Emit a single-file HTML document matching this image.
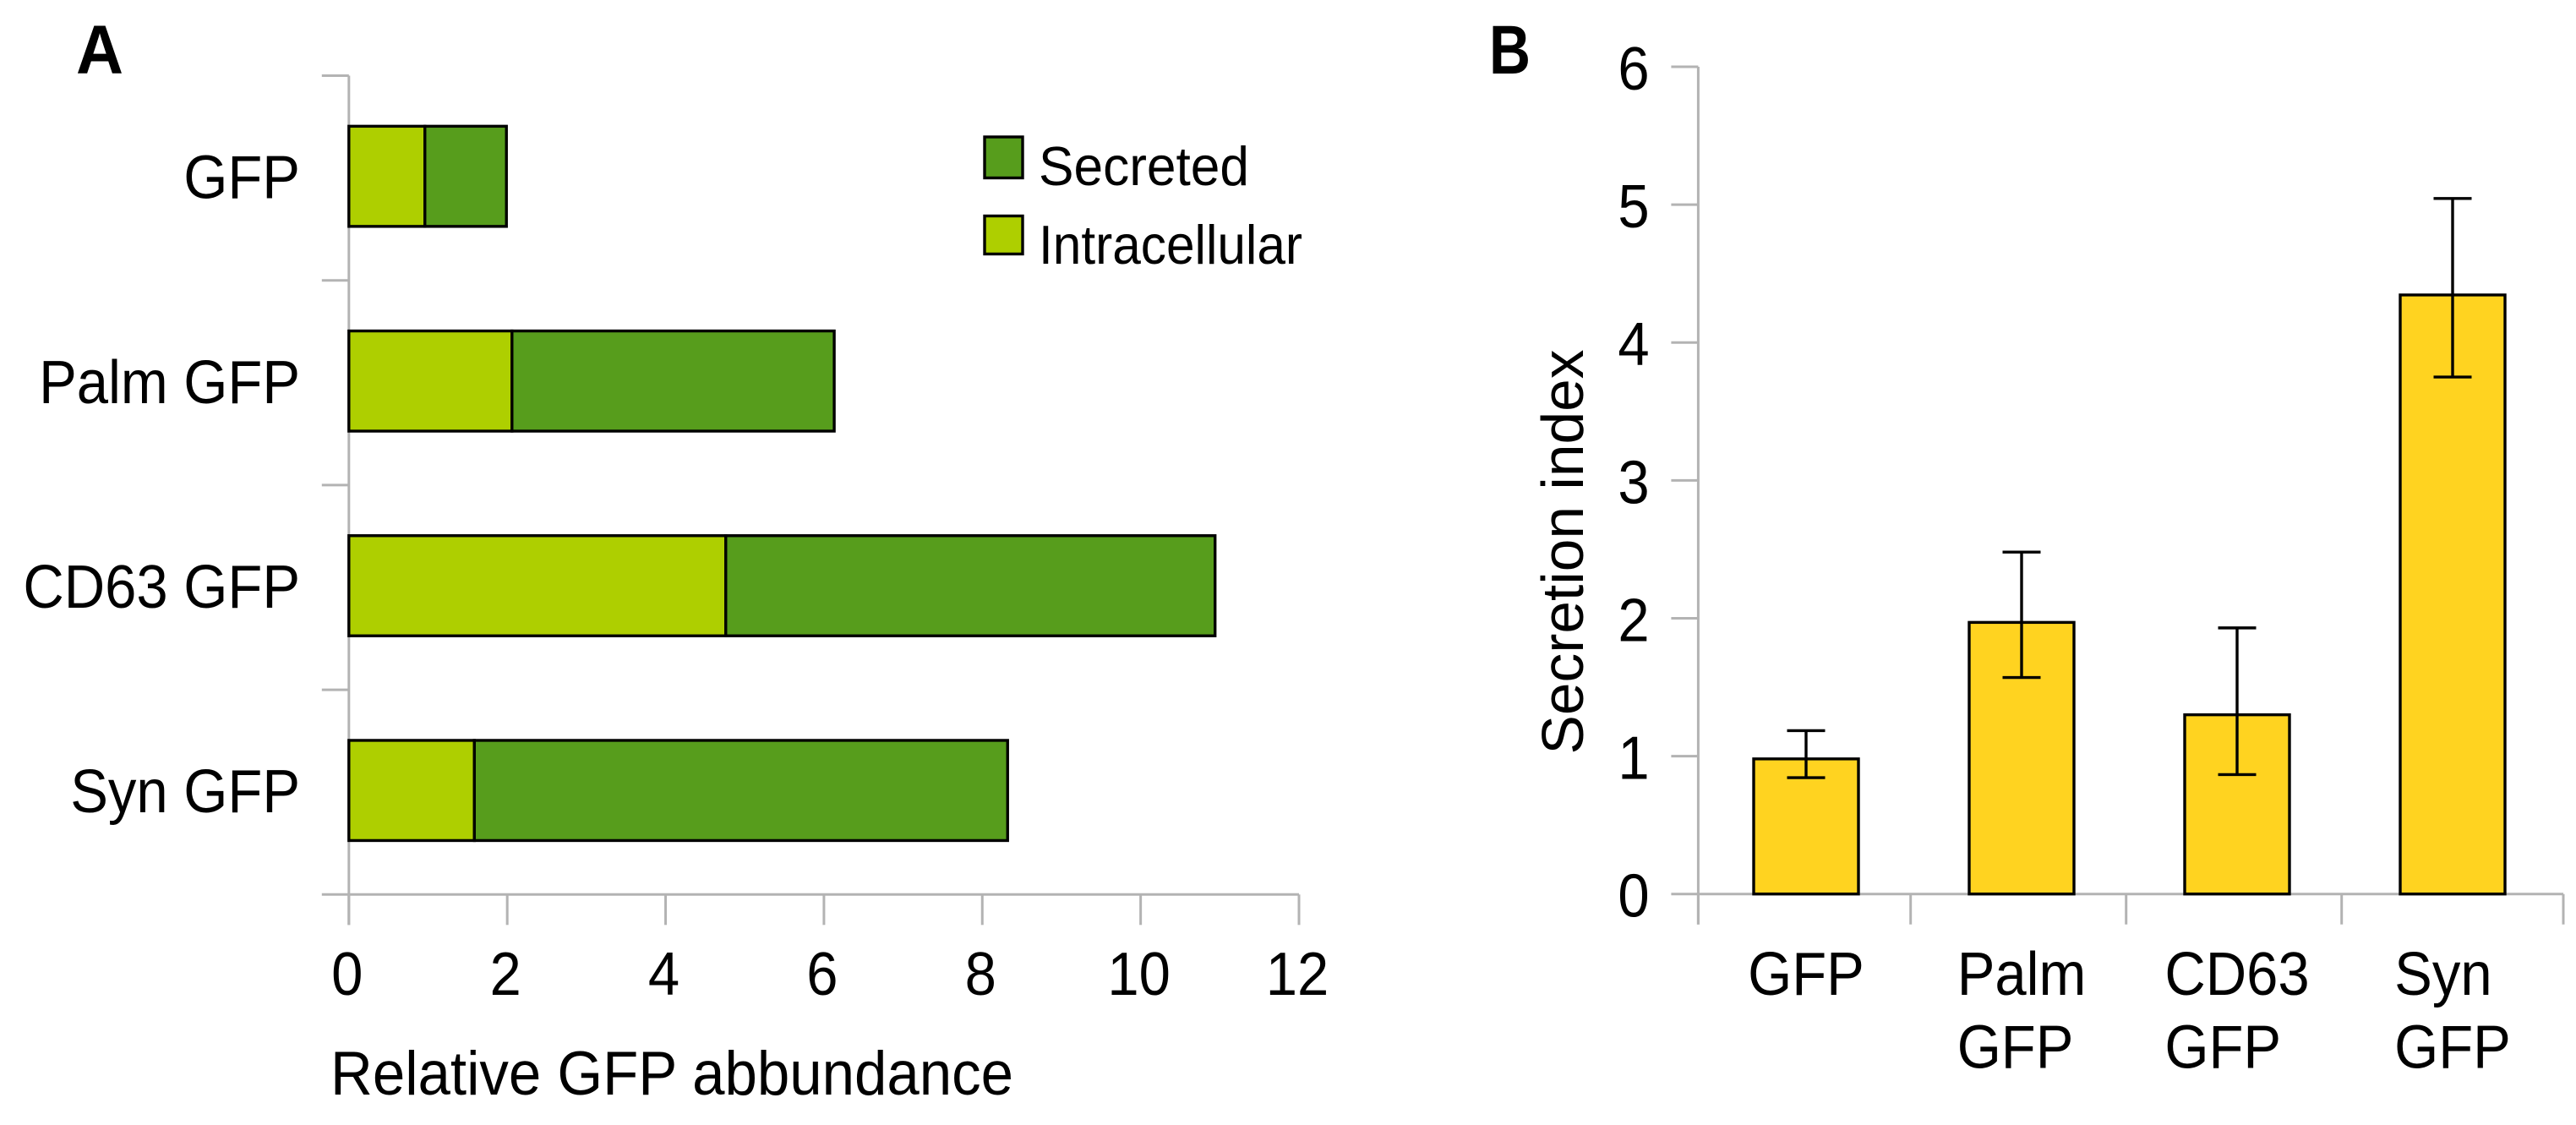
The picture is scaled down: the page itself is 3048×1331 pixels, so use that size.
<!DOCTYPE html>
<html lang="en">
<head>
<meta charset="utf-8">
<title>GFP abundance and secretion index</title>
<style>
  html, body { margin: 0; padding: 0; background: #fff; }
  svg { display: block; }
  text { font-family: "Liberation Sans", Arial, sans-serif; fill: #000; }
</style>
</head>
<body>
<svg id="figure" xmlns="http://www.w3.org/2000/svg" width="3048" height="1331" viewBox="0 0 3048 1331">
  <rect x="0" y="0" width="3048" height="1331" fill="#ffffff"/>
  <text x="90" y="87" font-size="82" font-weight="bold" textLength="56" lengthAdjust="spacingAndGlyphs">A</text>
  <text x="1762" y="87" font-size="82" font-weight="bold" textLength="49" lengthAdjust="spacingAndGlyphs">B</text>

  <g id="chart-a"></g>
  <g id="chart-b"></g>

  <g>
    <g>
      <rect x="1165" y="162" width="45" height="48.5" fill="#579d1c" stroke="#000" stroke-width="3.4"/>
      <text x="1229" y="219" font-size="65" textLength="249" lengthAdjust="spacingAndGlyphs">Secreted</text>
    </g>
    <g>
      <rect x="1165" y="255.5" width="45" height="45" fill="#aecf00" stroke="#000" stroke-width="3.4"/>
      <text x="1229" y="312" font-size="65" textLength="312" lengthAdjust="spacingAndGlyphs">Intracellular</text>
    </g>
  </g>

  <text transform="translate(391 1295) scale(1 1.06)" x="0" y="0" font-size="69">Relative GFP abbundance</text>
  <text transform="translate(1873 653) rotate(-90)" text-anchor="middle" font-size="69.5">Secretion index</text>
</svg>

<script>
// Panel A data: stacked horizontal bars
const categoriesA = ['GFP', 'Palm GFP', 'CD63 GFP', 'Syn GFP'];
const intracellular = [0.96, 2.06, 4.76, 1.585];
const secreted = [1.03, 4.07, 6.18, 6.735];
const xTicksA = [0, 2, 4, 6, 8, 10, 12];

// Panel B data: bars with error bars
const categoriesB = [['GFP'], ['Palm', 'GFP'], ['CD63', 'GFP'], ['Syn', 'GFP']];
const secretionIndex = [0.98, 1.97, 1.30, 4.345];
const errorUpper = [1.185, 2.48, 1.93, 5.045];
const errorLower = [0.844, 1.57, 0.866, 3.75];
const yTicksB = [0, 1, 2, 3, 4, 5, 6];

const SVG_NS = 'http://www.w3.org/2000/svg';
const AXIS_COLOR = '#b3b3b3';
const AXIS_WIDTH = 3;
const MARK_WIDTH = 3.4;
const LABEL_SIZE = 67;
const LABEL_STRETCH = 1.08;

function make(parent, tag, attrs, content) {
  const node = document.createElementNS(SVG_NS, tag);
  for (const key in attrs) node.setAttribute(key, attrs[key]);
  if (content !== undefined) node.textContent = content;
  parent.appendChild(node);
  return node;
}
// Axis labels in the reference are slightly taller than they are wide
function placeLabel(node, x, y) {
  node.setAttribute('transform', 'translate(' + x + ' ' + y + ') scale(1 ' + LABEL_STRETCH + ')');
}
function makeLabel(parent, x, y, anchor, content) {
  const node = make(parent, 'text', { x: 0, y: 0, 'text-anchor': anchor, 'font-size': LABEL_SIZE }, content);
  placeLabel(node, x, y);
  return node;
}
function slug(s) { return s.toLowerCase().replace(/\s+/g, '-'); }

const chartA = document.getElementById('chart-a');
const chartB = document.getElementById('chart-b');

/* ---------- Panel A scales ---------- */
const plotA = { left: 412.8, right: 1537, top: 89.5, bottom: 1058.3, xMax: 12, barHeight: 118.5 };
function xA(v) { return plotA.left + (v / plotA.xMax) * (plotA.right - plotA.left); }
function bandA() { return (plotA.bottom - plotA.top) / categoriesA.length; }
function yEdgeA(i) { return plotA.top + i * bandA(); }
function yCenterA(i) { return yEdgeA(i) + bandA() / 2 - 2; }

/* Panel A axes */
let el = make(chartA, 'line', { x1: plotA.left, x2: plotA.left, y1: plotA.top, y2: plotA.bottom + 36, stroke: AXIS_COLOR, 'stroke-width': AXIS_WIDTH });



el = make(chartA, 'line', { x1: plotA.left, x2: plotA.right, y1: plotA.bottom, y2: plotA.bottom, stroke: AXIS_COLOR, 'stroke-width': AXIS_WIDTH });



for (let i = 0; i <= categoriesA.length; i++) {
  const t = make(chartA, 'line', { x1: plotA.left - 32, x2: plotA.left, y1: yEdgeA(i), y2: yEdgeA(i), stroke: AXIS_COLOR, 'stroke-width': AXIS_WIDTH });
  
  
}

xTicksA.forEach(function (v) {
  const t = make(chartA, 'line', { x1: xA(v), x2: xA(v), y1: plotA.bottom, y2: plotA.bottom + 36, stroke: AXIS_COLOR, 'stroke-width': AXIS_WIDTH });
  
  
  const lab = makeLabel(chartA, xA(v) - 2, 1177, 'middle', String(v));
  
  
});

/* Panel A bars and labels */
categoriesA.forEach(function (cat, i) {
  const top = yCenterA(i) - plotA.barHeight / 2;
  const seg1 = make(chartA, 'rect', { x: xA(0), y: top, width: xA(intracellular[i]) - xA(0), height: plotA.barHeight, fill: '#aecf00', stroke: '#000', 'stroke-width': MARK_WIDTH });
  
  
  const seg2 = make(chartA, 'rect', { x: xA(intracellular[i]), y: top, width: xA(intracellular[i] + secreted[i]) - xA(intracellular[i]), height: plotA.barHeight, fill: '#579d1c', stroke: '#000', 'stroke-width': MARK_WIDTH });
  
  
  const lab = makeLabel(chartA, 355, yCenterA(i) + 26, 'end', cat);
  
  
});

/* ---------- Panel B scales ---------- */
const plotB = { left: 2009.4, right: 3033, top: 79, bottom: 1057.7, yMax: 6, barWidth: 124, firstBar: 2137, barStep: 255, capHalf: 22.5 };
function yB(v) { return plotB.bottom - (v / plotB.yMax) * (plotB.bottom - plotB.top); }
function xBar(i) { return plotB.firstBar + i * plotB.barStep; }
function xBoundaryB(i) {
  if (i === 0) return plotB.left;
  if (i === categoriesB.length) return plotB.right;
  return xBar(i - 1) + 123.7;
}

/* Panel B axes */
el = make(chartB, 'line', { x1: plotB.left, x2: plotB.left, y1: plotB.top, y2: plotB.bottom + 36, stroke: AXIS_COLOR, 'stroke-width': AXIS_WIDTH });



el = make(chartB, 'line', { x1: plotB.left, x2: plotB.right, y1: plotB.bottom, y2: plotB.bottom, stroke: AXIS_COLOR, 'stroke-width': AXIS_WIDTH });



yTicksB.forEach(function (v) {
  const t = make(chartB, 'line', { x1: plotB.left - 32, x2: plotB.left, y1: yB(v), y2: yB(v), stroke: AXIS_COLOR, 'stroke-width': AXIS_WIDTH });
  
  
  const lab = makeLabel(chartB, 1933, yB(v) + 27, 'middle', String(v));
  
  
});

for (let i = 0; i <= categoriesB.length; i++) {
  const t = make(chartB, 'line', { x1: xBoundaryB(i), x2: xBoundaryB(i), y1: plotB.bottom, y2: plotB.bottom + 36, stroke: AXIS_COLOR, 'stroke-width': AXIS_WIDTH });
  
  
}

/* Panel B bars, error bars and labels */
categoriesB.forEach(function (lines, i) {
  const name = slug(lines.join(' '));
  const cx = xBar(i);

  const bar = make(chartB, 'rect', { x: cx - plotB.barWidth / 2, y: yB(secretionIndex[i]), width: plotB.barWidth, height: yB(0) - yB(secretionIndex[i]), fill: '#ffd320', stroke: '#000', 'stroke-width': MARK_WIDTH });
  
  

  const stem = make(chartB, 'line', { x1: cx, x2: cx, y1: yB(errorUpper[i]), y2: yB(errorLower[i]), stroke: '#000', 'stroke-width': MARK_WIDTH });
  
  

  const capTop = make(chartB, 'line', { x1: cx - plotB.capHalf, x2: cx + plotB.capHalf, y1: yB(errorUpper[i]), y2: yB(errorUpper[i]), stroke: '#000', 'stroke-width': MARK_WIDTH });
  
  

  const capBottom = make(chartB, 'line', { x1: cx - plotB.capHalf, x2: cx + plotB.capHalf, y1: yB(errorLower[i]), y2: yB(errorLower[i]), stroke: '#000', 'stroke-width': MARK_WIDTH });
  
  

  // Lines are left-aligned, the block is centred on the bar
  const nodes = lines.map(function (line, k) {
    const lab = makeLabel(chartB, cx, 1177 + k * 86.5, 'start', line);
    
    
    return lab;
  });
  const widest = Math.max.apply(null, nodes.map(function (n) { return n.getComputedTextLength(); }));
  nodes.forEach(function (n, k) { placeLabel(n, cx - widest / 2, 1177 + k * 86.5); });
});
</script>
</body>
</html>
